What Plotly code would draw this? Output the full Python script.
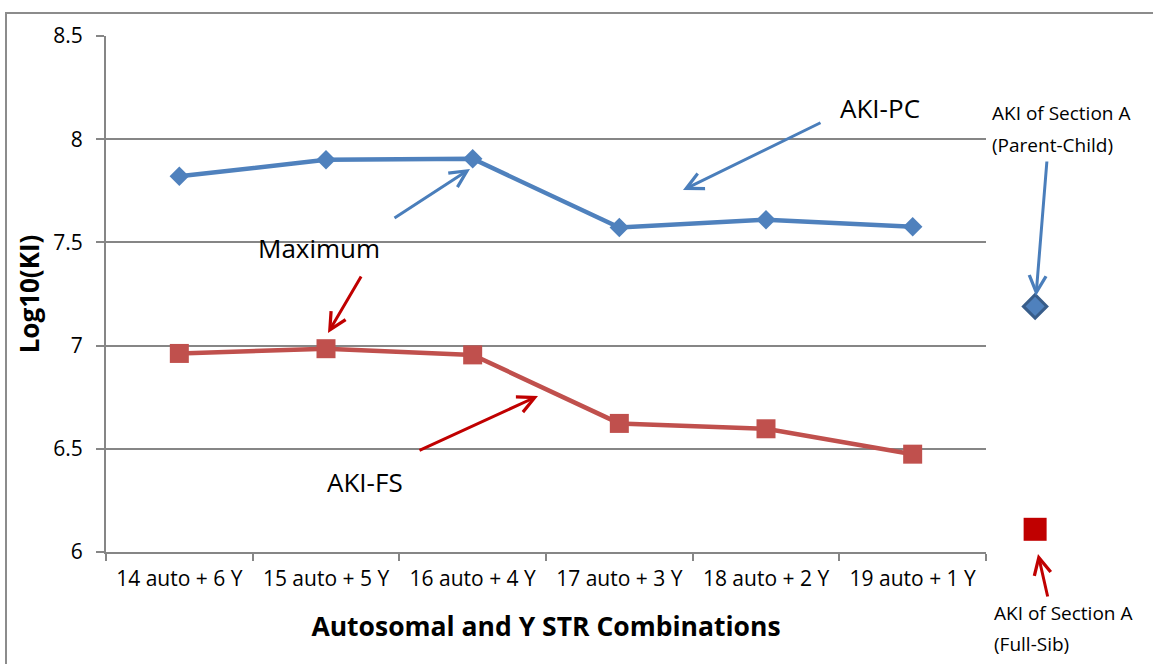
# ── AKI chart: Log10(KI) by autosomal / Y STR combination ─────────────────────
import plotly.graph_objects as go

combinations = ["14 auto + 6 Y", "15 auto + 5 Y", "16 auto + 4 Y",
                "17 auto + 3 Y", "18 auto + 2 Y", "19 auto + 1 Y"]
aki_pc = [7.82, 7.90, 7.905, 7.572, 7.61, 7.576]
aki_fs = [6.962, 6.985, 6.955, 6.623, 6.597, 6.474]

section_label = ["Section A"]
section_a_pc = [7.19]
section_a_fs = [6.11]

BLUE = "#4F81BD"
RED = "#C0504D"
ARROW_BLUE = "#4A7EBB"
ARROW_RED = "#C00000"
GRID = "#868686"
FONT = "Open Sans"

W, H = 1153, 664
L, R, T, B = 106, 0, 36, 112


def to_paper(px, py):
    """Pixel position in the page -> paper coordinates of the plot area."""
    return (px - L) / (W - L - R), (H - B - py) / (H - T - B)


fig = go.Figure()

fig.add_trace(go.Scatter(
    x=combinations, y=aki_pc, name="AKI-PC", mode="lines+markers",
    line=dict(color=BLUE, width=4.5),
    marker=dict(symbol="diamond", size=15, color=BLUE),
))
fig.add_trace(go.Scatter(
    x=combinations, y=aki_fs, name="AKI-FS", mode="lines+markers",
    line=dict(color=RED, width=4.5),
    marker=dict(symbol="square", size=19, color=RED),
))

# Section A reference points, drawn beside the main axis
fig.add_trace(go.Scatter(
    x=section_label, y=section_a_pc, xaxis="x2", yaxis="y2", mode="markers",
    marker=dict(symbol="diamond", size=18, color=BLUE,
                line=dict(color="#385D8A", width=3)),
))
fig.add_trace(go.Scatter(
    x=section_label, y=section_a_fs, xaxis="x2", yaxis="y2", mode="markers",
    marker=dict(symbol="square", size=23, color="#C00000"),
))

x_split = (986 - L) / (W - L - R)

# arrows: (tail px, head px, colour)
arrows = [
    ((822, 122), (683, 190), ARROW_BLUE),
    ((393, 219), (470, 169), ARROW_BLUE),
    ((362, 275), (328, 333), ARROW_RED),
    ((418, 451), (538, 396), ARROW_RED),
    ((1047, 160), (1036, 296), ARROW_BLUE),
    ((1048, 598), (1038, 554), ARROW_RED),
]
annotations = []
for (tx, ty), (hx, hy), col in arrows:
    px, py = to_paper(hx, hy)
    annotations.append(dict(
        x=px, y=py, xref="paper", yref="paper", text="",
        showarrow=True, ax=tx - hx, ay=ty - hy,
        arrowhead=5, arrowsize=1.1, arrowwidth=3, arrowcolor=col,
    ))

# text labels: (text, px, py, anchor, size)
labels = [
    ("AKI-PC", 880, 108, "center", 26),
    ("Maximum", 319, 248, "center", 26),
    ("AKI-FS", 365, 482, "center", 26),
    ("AKI of Section A", 990, 113, "left", 19),
    ("(Parent-Child)", 990, 145, "left", 19),
    ("AKI of Section A", 992, 613, "left", 19),
    ("(Full-Sib)", 992, 644, "left", 19),
]
for txt, lx, ly, anchor, size in labels:
    px, py = to_paper(lx, ly)
    annotations.append(dict(
        x=px, y=py, xref="paper", yref="paper", text=txt, showarrow=False,
        xanchor=anchor, yanchor="middle", align="left",
        font=dict(size=size, color="#000000", family=FONT),
    ))

fx0, fy0 = to_paper(6, 13)
fx1, fy1 = to_paper(1170, 690)

fig.update_layout(
    width=W, height=H,
    margin=dict(l=L, r=R, t=T, b=B),
    plot_bgcolor="white", paper_bgcolor="white",
    font=dict(family=FONT, color="#000000"),
    showlegend=False,
    xaxis=dict(
        domain=[0, x_split], type="category",
        range=[-0.5, len(combinations) - 0.5],
        showline=True, linecolor=GRID, linewidth=2,
        ticks="outside", tickson="boundaries", ticklen=7, tickcolor=GRID, tickwidth=2,
        showgrid=False, tickfont=dict(size=21), ticklabelstandoff=7,
        title=dict(text="<b>Autosomal and Y STR Combinations</b>",
                   font=dict(size=26.5), standoff=26),
    ),
    yaxis=dict(
        range=[6, 8.5], dtick=0.5,
        showline=True, linecolor=GRID, linewidth=2,
        ticks="outside", ticklen=8, tickcolor=GRID, tickwidth=2,
        showgrid=True, gridcolor=GRID, gridwidth=2, zeroline=False,
        tickfont=dict(size=21), ticklabelstandoff=9,
        title=dict(text="<b>Log10(KI)</b>", font=dict(size=26), standoff=6),
    ),
    xaxis2=dict(
        domain=[x_split, 1], type="category", anchor="y2",
        range=[-0.5, 1.2], visible=False,
    ),
    yaxis2=dict(
        domain=[0, 1], anchor="x2", range=[6, 8.5], visible=False,
        showgrid=False,
    ),
    annotations=annotations,
    shapes=[dict(
        type="rect", xref="paper", yref="paper",
        x0=fx0, y0=fy0, x1=fx1, y1=fy1,
        line=dict(color="#8C8C8C", width=2), layer="below",
    )],
)

fig.write_html("out.html", config={"displayModeBar": False},
               post_script="document.body.style.margin = '0';")
